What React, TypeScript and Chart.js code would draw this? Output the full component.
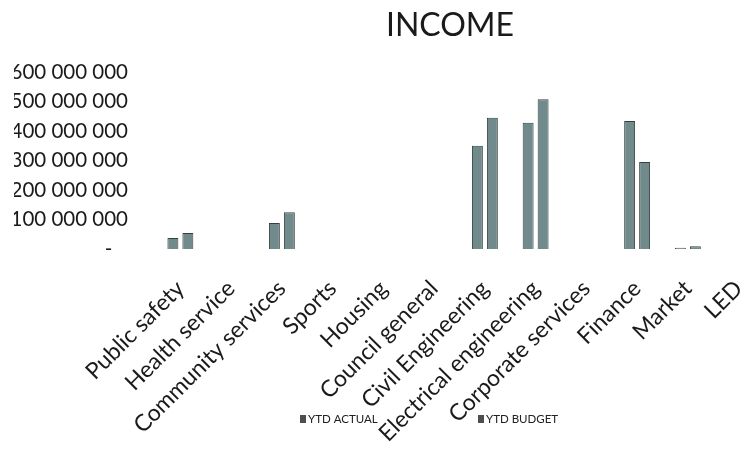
import React, { useEffect, useRef } from "react";
import { Chart, registerables } from "chart.js";

Chart.register(...registerables);

const categories = [
  "Public safety",
  "Health service",
  "Community services",
  "Sports",
  "Housing",
  "Council general",
  "Civil Engineering",
  "Electrical engineering",
  "Corporate services",
  "Finance",
  "Market",
  "LED",
];

const ytdActual = [37e6, 0, 88e6, 0, 0, 0, 350e6, 428e6, 0, 434e6, 4e6, 0];
const ytdBudget = [54e6, 0, 125e6, 0, 0, 0, 445e6, 508e6, 0, 295e6, 9e6, 0];

const seriesNames = ["YTD ACTUAL", "YTD BUDGET"];
const chartTitle = "INCOME";

const yMax = 600e6;
const yStep = 100e6;

const FONT = "Lato, 'Open Sans', sans-serif";
const BAR_FILL = "#718a8c";
const BAR_EDGE = "#34403f";

function formatAmount(v: number): string {
  if (v === 0) return "-   ";
  return Math.round(v)
    .toString()
    .replace(/\B(?=(\d{3})+(?!\d))/g, " ");
}

// Title centred over the visible page, and a small legend under the axis
// that sits among the slanted category names.
const decorations = {
  id: "decorations",
  afterDraw(chart: Chart) {
    const { ctx } = chart;
    ctx.save();
    ctx.fillStyle = "#1a1a1a";
    ctx.font = `32px ${FONT}`;
    ctx.textAlign = "center";
    ctx.textBaseline = "middle";
    ctx.fillText(chartTitle, 450, 26);

    const spots = [300, 478];
    ctx.font = `11.5px ${FONT}`;
    ctx.textAlign = "left";
    chart.data.datasets.forEach((ds, i) => {
      const x = spots[i];
      const y = 419;
      ctx.fillStyle = "#4a4f50";
      ctx.fillRect(x, y - 4, 6, 8);
      ctx.fillStyle = "#222";
      ctx.fillText(String(ds.label), x + 8, y);
    });
    ctx.restore();
  },
};

export default function App() {
  const canvasRef = useRef<HTMLCanvasElement | null>(null);

  useEffect(() => {
    if (!canvasRef.current) return;
    const barStyle = {
      backgroundColor: BAR_FILL,
      borderColor: BAR_EDGE,
      borderWidth: 1,
      categoryPercentage: 0.59,
      barPercentage: 0.73,
    };
    const chart = new Chart(canvasRef.current, {
      type: "bar",
      data: {
        labels: categories,
        datasets: [
          { label: seriesNames[0], data: ytdActual, ...barStyle },
          { label: seriesNames[1], data: ytdBudget, ...barStyle },
        ],
      },
      options: {
        responsive: false,
        animation: false,
        layout: { padding: { left: 14, right: 136, top: 72, bottom: 0 } },
        plugins: {
          legend: { display: false },
          tooltip: { enabled: false },
          title: { display: false },
        },
        scales: {
          x: {
            grid: { display: false, drawTicks: false },
            border: { display: false },
            afterFit: (scale) => {
              scale.height = 212;
            },
            ticks: {
              color: "#1a1a1a",
              font: { family: FONT, size: 23 },
              minRotation: 45,
              maxRotation: 45,
              autoSkip: false,
              padding: 26,
            },
          },
          y: {
            min: 0,
            max: yMax,
            grid: { display: false, drawTicks: false },
            border: { display: false },
            afterFit: (scale) => {
              scale.width = 141;
            },
            ticks: {
              stepSize: yStep,
              color: "#1a1a1a",
              font: { family: FONT, size: 20.5 },
              padding: 27,
              callback: (v) => formatAmount(Number(v)),
            },
          },
        },
      },
      plugins: [decorations],
    });
    return () => chart.destroy();
  }, []);

  return (
    <div
      style={{
        position: "fixed",
        left: 0,
        top: 0,
        width: 741,
        height: 461,
        overflow: "hidden",
        background: "#fff",
      }}
    >
      <canvas ref={canvasRef} width={900} height={461} />
    </div>
  );
}
